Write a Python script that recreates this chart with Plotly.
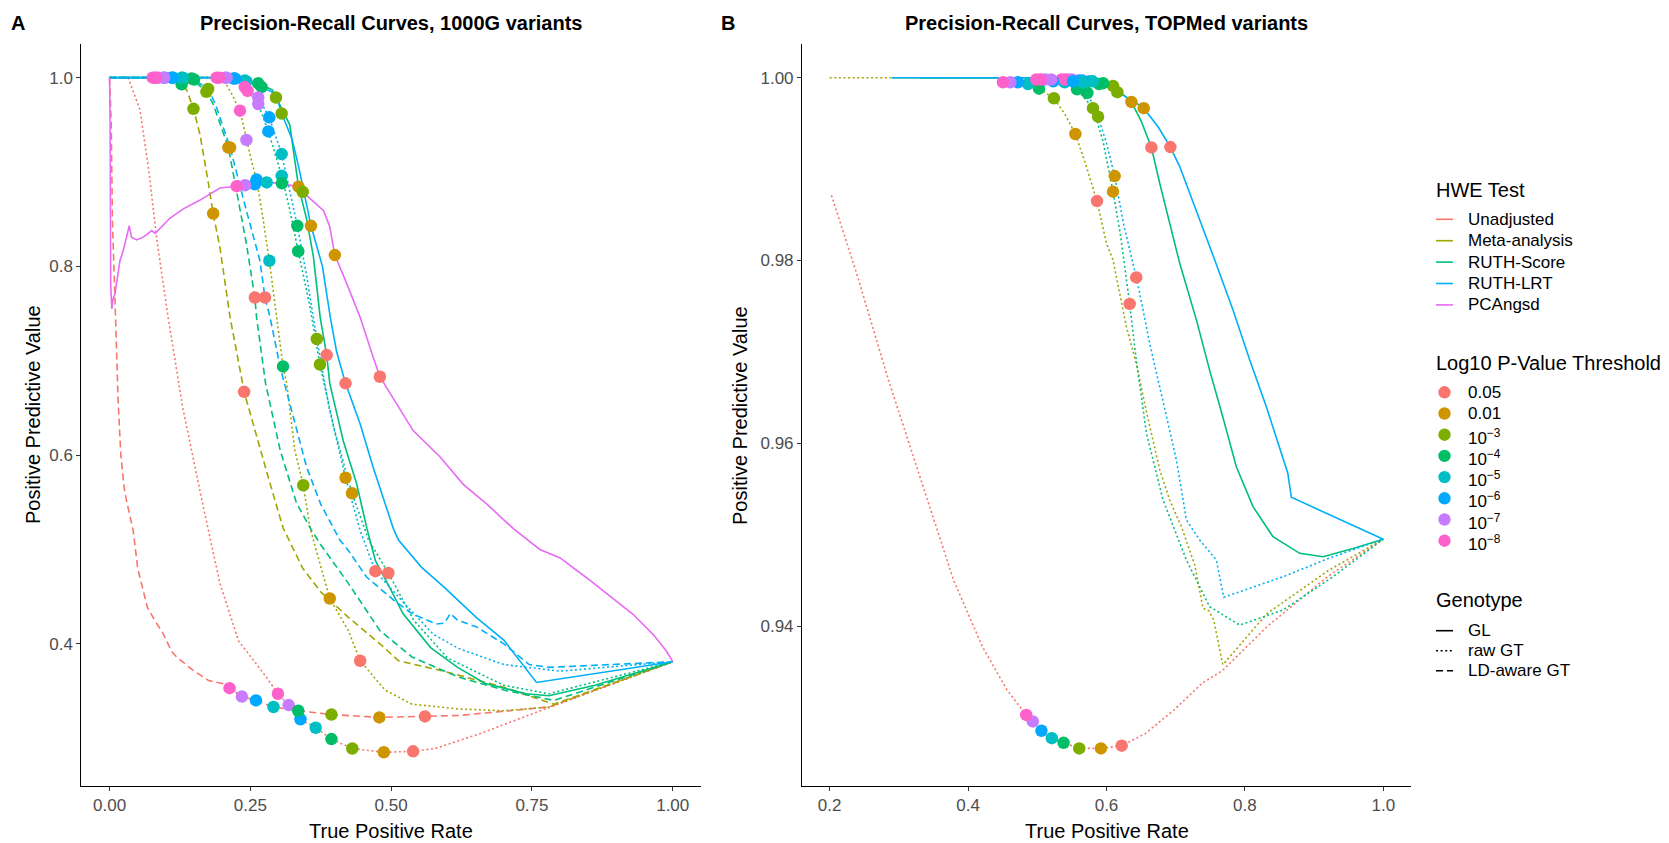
import plotly.graph_objects as go

W, H = 1669, 843
FONT = "Liberation Sans, Arial, sans-serif"

# ---------------- categories / styles ----------------
TEST_NAMES = ["Unadjusted", "Meta-analysis", "RUTH-Score", "RUTH-LRT", "PCAngsd"]
TEST_COLORS = ["#F8766D", "#A3A500", "#00BF7D", "#00B0F6", "#E76BF3"]
THRESH_LABELS = ["0.05", "0.01", "10<sup>−3</sup>", "10<sup>−4</sup>", "10<sup>−5</sup>",
                 "10<sup>−6</sup>", "10<sup>−7</sup>", "10<sup>−8</sup>"]
THRESH_COLORS = ["#F8766D", "#CD9600", "#7CAE00", "#00BE67", "#00BFC4", "#00A9FF", "#C77CFF", "#FF61CC"]
GENOTYPES = ["GL", "raw GT", "LD-aware GT"]

# ---------------- Panel A (1000G) curves ----------------
A_unadj_raw_x = [0, 0.033, 0.054, 0.07, 0.084, 0.104, 0.13, 0.164, 0.196, 0.229, 0.278, 0.299, 0.318, 0.339, 0.366, 0.394, 0.431, 0.487, 0.539, 0.578, 0.659, 0.765, 1.0]
A_unadj_raw_y = [1.0, 1.0, 0.966, 0.9, 0.828, 0.746, 0.65, 0.552, 0.464, 0.403, 0.365, 0.347, 0.335, 0.320, 0.311, 0.299, 0.289, 0.285, 0.286, 0.289, 0.305, 0.329, 0.381]
A_unadj_ld_x = [0, 0.003, 0.005, 0.008, 0.011, 0.015, 0.02, 0.026, 0.03, 0.042, 0.05, 0.067, 0.08, 0.095, 0.11, 0.119, 0.135, 0.148, 0.176, 0.2, 0.213, 0.235, 0.260, 0.291, 0.335, 0.394, 0.479, 0.560, 0.62, 0.78, 1.0]
A_unadj_ld_y = [1.0, 0.95, 0.85, 0.78, 0.74, 0.66, 0.6, 0.565, 0.552, 0.52, 0.48, 0.439, 0.425, 0.411, 0.392, 0.386, 0.378, 0.372, 0.361, 0.358, 0.353, 0.344, 0.340, 0.333, 0.329, 0.325, 0.322, 0.323, 0.324, 0.333, 0.381]
A_meta_raw_x = [0, 0.19, 0.205, 0.2167, 0.2316, 0.243, 0.252, 0.261, 0.27, 0.2837, 0.297, 0.308, 0.3145, 0.329, 0.344, 0.356, 0.367, 0.391, 0.424, 0.445, 0.489, 0.537, 0.618, 0.70, 0.78, 1.0]
A_meta_raw_y = [1.0, 1.0, 0.995, 0.983, 0.965, 0.934, 0.912, 0.892, 0.86, 0.806, 0.746, 0.694, 0.676, 0.605, 0.568, 0.523, 0.499, 0.448, 0.414, 0.382, 0.351, 0.336, 0.331, 0.329, 0.333, 0.381]
A_meta_ld_x = [0, 0.113, 0.128, 0.137, 0.149, 0.1605, 0.175, 0.184, 0.196, 0.214, 0.239, 0.261, 0.282, 0.308, 0.343, 0.375, 0.424, 0.48, 0.513, 0.586, 0.70, 0.789, 1.0]
A_meta_ld_y = [1.0, 1.0, 0.993, 0.987, 0.967, 0.94, 0.89, 0.856, 0.82, 0.746, 0.667, 0.619, 0.576, 0.523, 0.48, 0.455, 0.428, 0.40, 0.382, 0.372, 0.354, 0.336, 0.381]
A_score_gl_x = [0, 0.19, 0.205, 0.22, 0.24, 0.264, 0.289, 0.2955, 0.32, 0.3355, 0.35, 0.362, 0.374, 0.3855, 0.391, 0.415, 0.439, 0.457, 0.472, 0.497, 0.521, 0.57, 0.618, 0.667, 0.74, 0.78, 0.862, 1.0]
A_score_gl_y = [1.0, 1.0, 1.0, 0.999, 0.997, 0.994, 0.987, 0.979, 0.95, 0.8845, 0.85, 0.81, 0.746, 0.706, 0.676, 0.615, 0.569, 0.522, 0.488, 0.46, 0.432, 0.396, 0.375, 0.358, 0.347, 0.345, 0.356, 0.381]
A_score_raw_x = [0, 0.2, 0.23, 0.245, 0.264, 0.282, 0.3056, 0.32, 0.335, 0.355, 0.3736, 0.40, 0.4305, 0.46, 0.495, 0.54, 0.60, 0.70, 0.78, 1.0]
A_score_raw_y = [1.0, 1.0, 0.995, 0.986, 0.972, 0.943, 0.896, 0.86, 0.816, 0.76, 0.696, 0.625, 0.5595, 0.51, 0.475, 0.425, 0.385, 0.356, 0.347, 0.381]
A_score_ld_x = [0, 0.13, 0.146, 0.172, 0.184, 0.208, 0.211, 0.243, 0.258, 0.261, 0.277, 0.303, 0.332, 0.359, 0.375, 0.424, 0.48, 0.537, 0.618, 0.70, 0.789, 1.0]
A_score_ld_y = [1.0, 1.0, 0.999, 0.985, 0.972, 0.932, 0.926, 0.824, 0.767, 0.746, 0.676, 0.605, 0.549, 0.52, 0.505, 0.464, 0.414, 0.386, 0.365, 0.351, 0.34, 0.381]
A_lrt_gl_x = [0, 0.195, 0.208, 0.223, 0.243, 0.270, 0.295, 0.3056, 0.324, 0.336, 0.3577, 0.378, 0.392, 0.403, 0.419, 0.445, 0.468, 0.504, 0.513, 0.554, 0.594, 0.651, 0.70, 0.758, 1.0]
A_lrt_gl_y = [1.0, 1.0, 1.0, 0.999, 0.996, 0.99, 0.983, 0.962, 0.935, 0.905, 0.843, 0.80, 0.746, 0.71, 0.676, 0.633, 0.587, 0.522, 0.51, 0.481, 0.46, 0.428, 0.404, 0.359, 0.381]
A_lrt_raw_x = [0, 0.2, 0.225, 0.24, 0.264, 0.2836, 0.3056, 0.3334, 0.35, 0.368, 0.39, 0.419, 0.445, 0.472, 0.52, 0.575, 0.62, 0.70, 0.80, 1.0]
A_lrt_raw_y = [1.0, 1.0, 0.997, 0.99, 0.979, 0.958, 0.919, 0.843, 0.79, 0.723, 0.65, 0.576, 0.52, 0.477, 0.445, 0.41, 0.395, 0.378, 0.371, 0.381]
A_lrt_ld_x = [0, 0.135, 0.150, 0.175, 0.188, 0.214, 0.243, 0.267, 0.276, 0.285, 0.303, 0.326, 0.35, 0.375, 0.409, 0.424, 0.456, 0.505, 0.537, 0.58, 0.595, 0.605, 0.618, 0.651, 0.70, 0.745, 0.78, 1.0]
A_lrt_ld_y = [1.0, 1.0, 0.998, 0.988, 0.972, 0.926, 0.859, 0.806, 0.767, 0.746, 0.693, 0.64, 0.587, 0.548, 0.51, 0.499, 0.471, 0.446, 0.432, 0.421, 0.422, 0.432, 0.425, 0.418, 0.40, 0.378, 0.375, 0.381]
A_pca_gl_x = [0, 0.001, 0.002, 0.004, 0.006, 0.0096, 0.0185, 0.0244, 0.035, 0.039, 0.048, 0.060, 0.075, 0.081, 0.107, 0.131, 0.160, 0.196, 0.2257, 0.2405, 0.258, 0.279, 0.306, 0.3145, 0.336, 0.343, 0.356, 0.380, 0.391, 0.400, 0.421, 0.445, 0.468, 0.480, 0.510, 0.539, 0.587, 0.628, 0.670, 0.717, 0.764, 0.800, 0.847, 0.883, 0.930, 0.965, 0.989, 1.0]
A_pca_gl_y = [1.0, 0.95, 0.78, 0.755, 0.765, 0.771, 0.806, 0.817, 0.843, 0.831, 0.828, 0.831, 0.838, 0.835, 0.851, 0.861, 0.870, 0.883, 0.885, 0.886, 0.887, 0.889, 0.888, 0.887, 0.884, 0.879, 0.872, 0.859, 0.842, 0.812, 0.782, 0.746, 0.704, 0.683, 0.654, 0.626, 0.598, 0.569, 0.548, 0.522, 0.50, 0.491, 0.470, 0.453, 0.431, 0.41, 0.392, 0.381]

# threshold points, ordered 0.05, 0.01, 1e-3 ... 1e-8
A_unadj_raw_px = [0.539, 0.487, 0.431, 0.394, 0.366, 0.339, 0.318, 0.299]
A_unadj_raw_py = [0.286, 0.285, 0.289, 0.299, 0.311, 0.320, 0.335, 0.347]
A_unadj_ld_px = [0.560, 0.479, 0.394, 0.335, 0.291, 0.260, 0.235, 0.213]
A_unadj_ld_py = [0.323, 0.322, 0.325, 0.329, 0.333, 0.340, 0.344, 0.353]
A_meta_raw_px = [0.445, 0.391, 0.344, 0.308, 0.2837, 0.261, 0.243, 0.2316]
A_meta_raw_py = [0.382, 0.448, 0.568, 0.694, 0.806, 0.892, 0.934, 0.965]
A_meta_ld_px = [0.239, 0.184, 0.149, 0.128, 0.113, 0.0984, 0.0866, 0.0765]
A_meta_ld_py = [0.667, 0.856, 0.967, 0.993, 1.0, 1.0, 1.0, 1.0]
A_score_gl_px = [0.3855, 0.3355, 0.2955, 0.264, 0.24, 0.22, 0.205, 0.19]
A_score_gl_py = [0.706, 0.8845, 0.979, 0.994, 0.997, 0.999, 1.0, 1.0]
A_score_raw_px = [0.495, 0.4305, 0.3736, 0.335, 0.3056, 0.282, 0.264, 0.245]
A_score_raw_py = [0.475, 0.5595, 0.696, 0.816, 0.896, 0.943, 0.972, 0.986]
A_score_ld_px = [0.258, 0.211, 0.172, 0.146, 0.128, 0.11, 0.095, 0.08]
A_score_ld_py = [0.767, 0.926, 0.985, 0.999, 1.0, 1.0, 1.0, 1.0]
A_lrt_gl_px = [0.419, 0.3577, 0.3056, 0.270, 0.243, 0.223, 0.208, 0.195]
A_lrt_gl_py = [0.676, 0.843, 0.962, 0.99, 0.996, 0.999, 1.0, 1.0]
A_lrt_raw_px = [0.472, 0.419, 0.368, 0.3334, 0.3056, 0.2836, 0.264, 0.24]
A_lrt_raw_py = [0.477, 0.576, 0.723, 0.843, 0.919, 0.958, 0.979, 0.99]
A_lrt_ld_px = [0.276, 0.214, 0.175, 0.150, 0.13, 0.112, 0.097, 0.083]
A_lrt_ld_py = [0.767, 0.926, 0.988, 0.998, 1.0, 1.0, 1.0, 1.0]
A_pca_gl_px = [0.480, 0.400, 0.343, 0.306, 0.279, 0.258, 0.2405, 0.2257]
A_pca_gl_py = [0.683, 0.812, 0.879, 0.888, 0.889, 0.887, 0.886, 0.885]

# ---------------- Panel B (TOPMed) curves ----------------
B_unadj_raw_x = [0.2025, 0.241, 0.285, 0.332, 0.379, 0.421, 0.456, 0.484, 0.4935, 0.506, 0.521, 0.538, 0.5606, 0.592, 0.622, 0.656, 0.697, 0.738, 0.768, 0.832, 0.92, 1.0]
B_unadj_raw_y = [0.98714, 0.97809, 0.96690, 0.95602, 0.94503, 0.93770, 0.93303, 0.93028, 0.92957, 0.92855, 0.92774, 0.92723, 0.92662, 0.92662, 0.92692, 0.92824, 0.93079, 0.93374, 0.93516, 0.93994, 0.94544, 0.94951]
B_meta_raw_x = [0.2, 0.44, 0.4505, 0.472, 0.5025, 0.524, 0.54, 0.555, 0.57, 0.5863, 0.60, 0.6094, 0.6287, 0.643, 0.6577, 0.677, 0.6913, 0.7082, 0.7275, 0.7395, 0.748, 0.755, 0.768, 0.832, 0.92, 1.0]
B_meta_raw_y = [1.0, 1.0, 0.9999, 0.9998, 0.9988, 0.99775, 0.996, 0.99384, 0.9905, 0.9865, 0.98186, 0.98006, 0.97276, 0.96875, 0.96346, 0.95708, 0.9538, 0.95088, 0.94669, 0.94195, 0.94167, 0.94066, 0.93577, 0.94137, 0.94605, 0.94951]
B_score_gl_x = [0.33, 0.56, 0.5757, 0.5892, 0.6094, 0.636, 0.65, 0.6649, 0.677, 0.6913, 0.7058, 0.73, 0.749, 0.768, 0.7876, 0.8117, 0.8406, 0.8792, 0.913, 0.9562, 1.0]
B_score_gl_y = [1.0, 1.0, 0.9996, 0.9993, 0.99915, 0.99735, 0.99527, 0.99237, 0.98843, 0.98406, 0.97969, 0.97348, 0.96801, 0.9629, 0.95744, 0.95307, 0.94978, 0.94796, 0.94759, 0.9485, 0.94951]
B_score_raw_x = [0.33, 0.49, 0.4986, 0.523, 0.5396, 0.5574, 0.5805, 0.595, 0.6094, 0.62, 0.6335, 0.643, 0.6577, 0.6817, 0.7155, 0.749, 0.7925, 0.855, 0.9273, 1.0]
B_score_raw_y = [1.0, 1.0, 0.9999, 0.9997, 0.9994, 0.99873, 0.99667, 0.99304, 0.98753, 0.98288, 0.97525, 0.96912, 0.9611, 0.9538, 0.94722, 0.94212, 0.94011, 0.94176, 0.9454, 0.94951]
B_lrt_gl_x = [0.29, 0.58, 0.595, 0.6157, 0.635, 0.6538, 0.675, 0.6923, 0.7058, 0.73, 0.7564, 0.7828, 0.807, 0.831, 0.85, 0.862, 0.8671, 1.0]
B_lrt_gl_y = [1.0, 1.0, 0.9995, 0.99842, 0.99763, 0.99667, 0.99458, 0.99241, 0.99028, 0.98542, 0.98006, 0.97458, 0.96912, 0.964, 0.95963, 0.95672, 0.95409, 0.94951]
B_lrt_raw_x = [0.29, 0.5, 0.5516, 0.5724, 0.5878, 0.60, 0.6118, 0.625, 0.643, 0.648, 0.6624, 0.6817, 0.701, 0.7155, 0.7347, 0.7588, 0.7694, 0.855, 0.9273, 1.0]
B_lrt_raw_y = [1.0, 1.0, 0.9996, 0.99834, 0.99574, 0.99284, 0.98924, 0.98389, 0.97815, 0.97642, 0.97095, 0.96474, 0.95818, 0.95161, 0.94942, 0.94723, 0.94315, 0.9454, 0.94759, 0.94951]

B_unadj_raw_px = [0.622, 0.592, 0.5606, 0.538, 0.521, 0.506, 0.4935, 0.484]
B_unadj_raw_py = [0.92692, 0.92662, 0.92662, 0.92723, 0.92774, 0.92855, 0.92957, 0.93028]
B_meta_raw_px = [0.5863, 0.555, 0.524, 0.5025, 0.4866, 0.472, 0.461, 0.4505]
B_meta_raw_py = [0.9865, 0.99384, 0.99775, 0.9988, 0.9993, 0.9995, 0.9995, 0.9995]
B_score_gl_px = [0.6649, 0.636, 0.6094, 0.5892, 0.5757, 0.56, 0.545, 0.535]
B_score_gl_py = [0.99237, 0.99735, 0.9991, 0.9993, 0.9996, 0.9997, 0.9998, 0.9998]
B_score_raw_px = [0.6335, 0.6094, 0.5805, 0.5574, 0.5396, 0.523, 0.511, 0.4986]
B_score_raw_py = [0.97525, 0.98753, 0.99667, 0.99873, 0.9995, 0.9996, 0.9998, 0.9998]
B_lrt_gl_px = [0.6923, 0.6538, 0.6157, 0.595, 0.58, 0.565, 0.55, 0.54]
B_lrt_gl_py = [0.99241, 0.99667, 0.99842, 0.9994, 0.9996, 0.9997, 0.9998, 0.9998]
B_lrt_raw_px = [0.643, 0.6118, 0.5878, 0.5724, 0.565, 0.5516, 0.52, 0.505]
B_lrt_raw_py = [0.97815, 0.98924, 0.99574, 0.99834, 0.9995, 0.9996, 0.9998, 0.9998]

# (panel, test index, genotype index, line x, line y, points x, points y)
CURVES = [
    ("A", 0, 1, A_unadj_raw_x, A_unadj_raw_y, A_unadj_raw_px, A_unadj_raw_py),
    ("A", 0, 2, A_unadj_ld_x, A_unadj_ld_y, A_unadj_ld_px, A_unadj_ld_py),
    ("A", 1, 1, A_meta_raw_x, A_meta_raw_y, A_meta_raw_px, A_meta_raw_py),
    ("A", 1, 2, A_meta_ld_x, A_meta_ld_y, A_meta_ld_px, A_meta_ld_py),
    ("A", 2, 0, A_score_gl_x, A_score_gl_y, A_score_gl_px, A_score_gl_py),
    ("A", 2, 1, A_score_raw_x, A_score_raw_y, A_score_raw_px, A_score_raw_py),
    ("A", 2, 2, A_score_ld_x, A_score_ld_y, A_score_ld_px, A_score_ld_py),
    ("A", 3, 0, A_lrt_gl_x, A_lrt_gl_y, A_lrt_gl_px, A_lrt_gl_py),
    ("A", 3, 1, A_lrt_raw_x, A_lrt_raw_y, A_lrt_raw_px, A_lrt_raw_py),
    ("A", 3, 2, A_lrt_ld_x, A_lrt_ld_y, A_lrt_ld_px, A_lrt_ld_py),
    ("A", 4, 0, A_pca_gl_x, A_pca_gl_y, A_pca_gl_px, A_pca_gl_py),
    ("B", 0, 1, B_unadj_raw_x, B_unadj_raw_y, B_unadj_raw_px, B_unadj_raw_py),
    ("B", 1, 1, B_meta_raw_x, B_meta_raw_y, B_meta_raw_px, B_meta_raw_py),
    ("B", 2, 0, B_score_gl_x, B_score_gl_y, B_score_gl_px, B_score_gl_py),
    ("B", 2, 1, B_score_raw_x, B_score_raw_y, B_score_raw_px, B_score_raw_py),
    ("B", 3, 0, B_lrt_gl_x, B_lrt_gl_y, B_lrt_gl_px, B_lrt_gl_py),
    ("B", 3, 1, B_lrt_raw_x, B_lrt_raw_y, B_lrt_raw_px, B_lrt_raw_py),
]

DASHES = ["solid", "2px,2.6px", "7px,4px"]
LW = 1.6

fig = go.Figure()
for panel, ti, gi, lx, ly, _, _ in CURVES:
    ax = dict(xaxis="x", yaxis="y") if panel == "A" else dict(xaxis="x2", yaxis="y2")
    fig.add_trace(go.Scatter(x=lx, y=ly, mode="lines", showlegend=False, hoverinfo="skip",
                             line=dict(color=TEST_COLORS[ti], width=LW, dash=DASHES[gi]), **ax))
for panel, ti, gi, _, _, px_, py_ in CURVES:
    ax = dict(xaxis="x", yaxis="y") if panel == "A" else dict(xaxis="x2", yaxis="y2")
    fig.add_trace(go.Scatter(x=px_, y=py_, mode="markers", showlegend=False, hoverinfo="skip",
                             marker=dict(color=THRESH_COLORS, size=12.5, line=dict(width=0)), **ax))

def PX(x):
    return x / W

def PY(y):
    return 1 - y / H

TOP, BOT = 43.8, 785.5
AL, AR = 81.4, 700.9
BL, BR = 802.0, 1411.0
ydom = [PY(BOT), PY(TOP)]

axis_common = dict(showline=True, linecolor="black", linewidth=1.1, ticks="outside", ticklen=4,
                   tickwidth=1.1, tickcolor="#333333", showgrid=False, zeroline=False,
                   tickfont=dict(family=FONT, size=17, color="#4D4D4D"), automargin=False)

fig.update_layout(
    width=W, height=H, margin=dict(l=0, r=0, t=0, b=0),
    paper_bgcolor="white", plot_bgcolor="white", showlegend=False,
    xaxis=dict(domain=[PX(AL), PX(AR)], range=[-0.05, 1.05], anchor="y",
               tickvals=[0, 0.25, 0.5, 0.75, 1.0], ticktext=["0.00", "0.25", "0.50", "0.75", "1.00"], **axis_common),
    yaxis=dict(domain=ydom, range=[0.2498, 1.0359], anchor="x",
               tickvals=[0.4, 0.6, 0.8, 1.0], ticktext=["0.4", "0.6", "0.8", "1.0"], **axis_common),
    xaxis2=dict(domain=[PX(BL), PX(BR)], range=[0.16, 1.04], anchor="y2",
                tickvals=[0.2, 0.4, 0.6, 0.8, 1.0], ticktext=["0.2", "0.4", "0.6", "0.8", "1.0"], **axis_common),
    yaxis2=dict(domain=ydom, range=[0.92256, 1.00371], anchor="x2",
                tickvals=[0.94, 0.96, 0.98, 1.0], ticktext=["0.94", "0.96", "0.98", "1.00"], **axis_common),
)

ann = []
def text(x, y, s, size, bold=False, xanchor="center", angle=0, color="black"):
    ann.append(dict(x=PX(x), y=PY(y), xref="paper", yref="paper", text=("<b>%s</b>" % s) if bold else s,
                    showarrow=False, xanchor=xanchor, yanchor="middle", textangle=angle,
                    font=dict(family=FONT, size=size, color=color)))

# panel tags and titles
text(18, 23, "A", 20, bold=True)
text(728, 23, "B", 20, bold=True)
text((AL + AR) / 2, 23, "Precision-Recall Curves, 1000G variants", 20, bold=True)
text((BL + BR) / 2, 23, "Precision-Recall Curves, TOPMed variants", 20, bold=True)
# axis titles
text((AL + AR) / 2, 831, "True Positive Rate", 20)
text((BL + BR) / 2, 831, "True Positive Rate", 20)
text(33, 415, "Positive Predictive Value", 20, angle=-90)
text(740, 416, "Positive Predictive Value", 20, angle=-90)

# ---------------- legend (drawn manually) ----------------
shapes = []
LX_KEY0, LX_KEY1, LX_TXT = 1436, 1453, 1466
text(1434, 190, "HWE Test", 20, xanchor="left")
for i, (name, col) in enumerate(zip(TEST_NAMES, TEST_COLORS)):
    yy = 219.3 + i * 21.4
    shapes.append(dict(type="line", xref="paper", yref="paper", x0=PX(LX_KEY0), x1=PX(LX_KEY1),
                       y0=PY(yy), y1=PY(yy), line=dict(color=col, width=LW)))
    text(LX_TXT, yy, name, 17, xanchor="left")

text(1434, 363.3, "Log10 P-Value Threshold", 20, xanchor="left")
for i, (lab, col) in enumerate(zip(THRESH_LABELS, THRESH_COLORS)):
    yy = 392.3 + i * 21.2
    shapes.append(dict(type="circle", xref="paper", yref="paper", xsizemode="pixel", ysizemode="pixel",
                       xanchor=PX(1444.5), yanchor=PY(yy), x0=-6.2, x1=6.2, y0=-6.2, y1=6.2,
                       fillcolor=col, line=dict(width=0)))
    text(LX_TXT, yy + (2 if "sup" in lab else 0), lab, 17, xanchor="left")

text(1434, 600, "Genotype", 20, xanchor="left")
for i, g in enumerate(GENOTYPES):
    yy = 630.7 + i * 20
    shapes.append(dict(type="line", xref="paper", yref="paper", x0=PX(LX_KEY0), x1=PX(LX_KEY1),
                       y0=PY(yy), y1=PY(yy), line=dict(color="black", width=LW, dash=DASHES[i])))
    text(LX_TXT, yy, g, 17, xanchor="left")

fig.update_layout(annotations=ann, shapes=shapes)
fig.write_html("out.html")
